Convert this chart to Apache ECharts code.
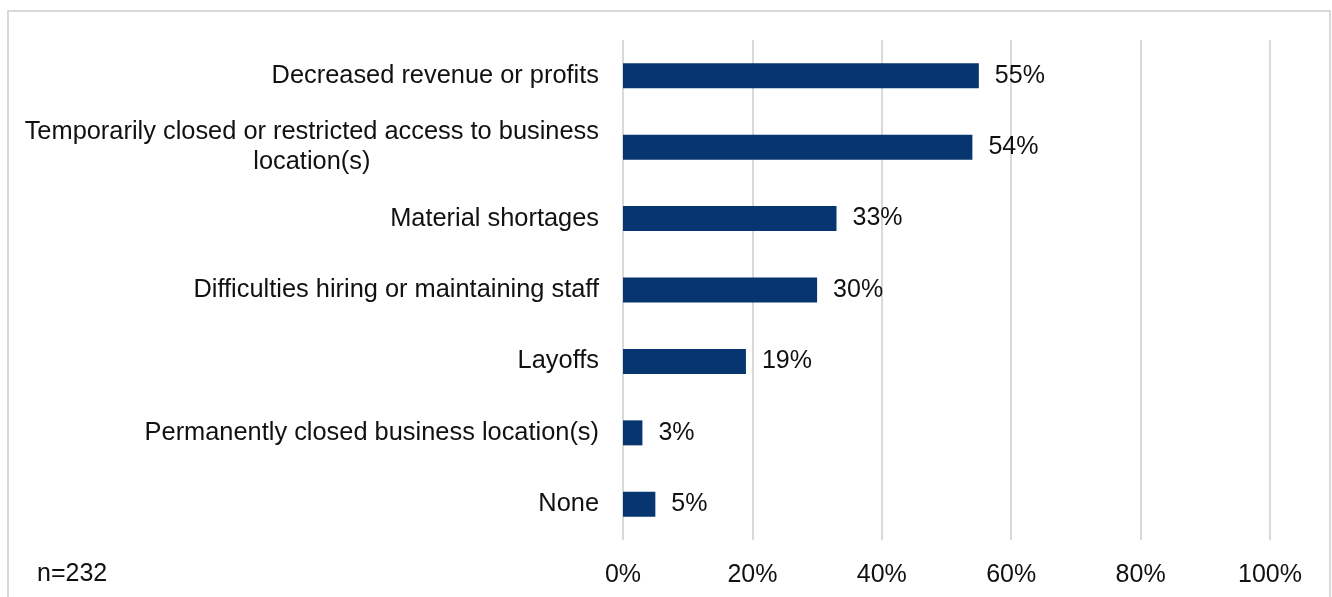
<!DOCTYPE html>
<html>
<head>
<meta charset="utf-8">
<style>
  html, body { margin: 0; padding: 0; background: #ffffff; }
  #chart { width: 1332px; height: 597px; }
</style>
<script src="https://cdn.jsdelivr.net/npm/echarts@6/dist/echarts.min.js"></script>
</head>
<body>
<div id="chart"></div>
<script>
// Business impacts, share of respondents
const categories = [
  'Decreased revenue or profits',
  'Temporarily closed or restricted access to business\nlocation(s)',
  'Material shortages',
  'Difficulties hiring or maintaining staff',
  'Layoffs',
  'Permanently closed business location(s)',
  'None'
];
const values = [55, 54, 33, 30, 19, 3, 5];
const xTicks = [0, 20, 40, 60, 80, 100];
const sampleNote = 'n=232';

const FONT = '"Liberation Sans", Arial, sans-serif';
const TEXT = '#111111';
const GRID = '#d9d9d9';
const BAR = '#07356f';

const chart = echarts.init(document.getElementById('chart'), null, { renderer: 'canvas' });

chart.setOption({
  backgroundColor: '#ffffff',
  animation: false,
  textStyle: { fontFamily: FONT },
  grid: { left: 623, right: 62, top: 40, bottom: 57, containLabel: false },
  xAxis: {
    type: 'value',
    min: xTicks[0],
    max: xTicks[xTicks.length - 1],
    interval: 20,
    axisLine: { show: false },
    axisTick: { show: false },
    splitLine: { show: true, lineStyle: { color: GRID, width: 2 } },
    axisLabel: {
      margin: 23,
      fontSize: 25,
      color: TEXT,
      fontFamily: FONT,
      formatter: v => v + '%'
    }
  },
  yAxis: {
    type: 'category',
    data: categories,
    inverse: true,
    axisLine: { show: false },
    axisTick: { show: false },
    axisLabel: {
      margin: 24,
      color: TEXT,
      fontSize: 25.4,
      fontFamily: FONT,
      lineHeight: 30,
      formatter: v => v.split('\n').map(l => '{c|' + l + '}').join('\n'),
      rich: {
        c: { align: 'center', fontSize: 25.4, lineHeight: 30, color: TEXT, fontFamily: FONT }
      }
    }
  },
  series: [{
    type: 'bar',
    data: values,
    barWidth: 25,
    itemStyle: { color: BAR },
    label: {
      show: true,
      position: 'right',
      distance: 16,
      fontSize: 25,
      color: TEXT,
      fontFamily: FONT,
      formatter: p => p.value + '%'
    }
  }],
  graphic: [
    {
      type: 'rect',
      shape: { x: 8, y: 11, width: 1322, height: 620 },
      style: { fill: 'none', stroke: GRID, lineWidth: 2 },
      silent: true
    },
    {
      type: 'text',
      left: 37,
      top: 562,
      style: { text: sampleNote, fontSize: 25, fill: TEXT, fontFamily: FONT }
    }
  ]
});
</script>
</body>
</html>
